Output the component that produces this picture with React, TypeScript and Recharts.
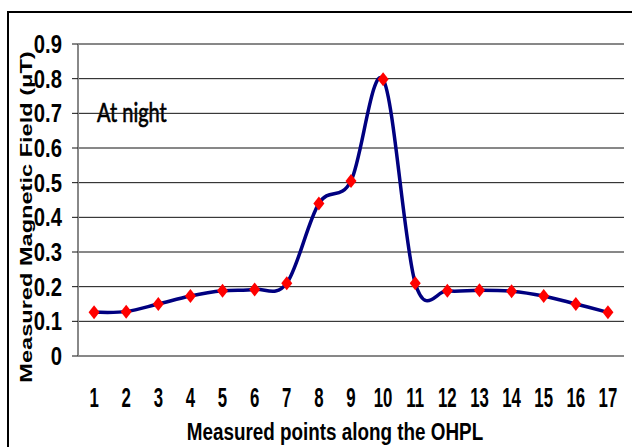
import { LineChart, Line, XAxis, YAxis, CartesianGrid, Label } from 'recharts'

const points = [1, 2, 3, 4, 5, 6, 7, 8, 9, 10, 11, 12, 13, 14, 15, 16, 17]
const fieldAtNight = [0.126, 0.128, 0.15, 0.173, 0.188, 0.192, 0.21, 0.44, 0.505, 0.798, 0.21, 0.188, 0.19, 0.187, 0.173, 0.15, 0.126]
const yTicks = [0, 0.1, 0.2, 0.3, 0.4, 0.5, 0.6, 0.7, 0.8, 0.9]

const data = points.map((p, i) => ({ point: p, value: fieldAtNight[i] }))
// tick marks sit between the measured points, like an Excel category axis
const boundaryTicks = [...points.map((p) => p - 0.5), points[points.length - 1] + 0.5]

// no Arial Narrow here, so squeeze Liberation Sans instead
const sans = "'Liberation Sans', Arial, sans-serif"

// Excel-style smoothed line (Catmull-Rom as cubic beziers)
function excelSmooth(context: any) {
  let pts: number[][] = []
  return {
    areaStart() {},
    areaEnd() {},
    lineStart() { pts = [] },
    point(x: number, y: number) { pts.push([+x, +y]) },
    lineEnd() {
      if (!pts.length) return
      context.moveTo(pts[0][0], pts[0][1])
      const t = 1 / 6
      for (let i = 0; i < pts.length - 1; i++) {
        const p0 = pts[Math.max(0, i - 1)]
        const p1 = pts[i]
        const p2 = pts[i + 1]
        const p3 = pts[Math.min(pts.length - 1, i + 2)]
        context.bezierCurveTo(
          p1[0] + (p2[0] - p0[0]) * t, p1[1] + (p2[1] - p0[1]) * t,
          p2[0] - (p3[0] - p1[0]) * t, p2[1] - (p3[1] - p1[1]) * t,
          p2[0], p2[1],
        )
      }
    },
  }
}

function Diamond(props: any) {
  const { cx, cy, index } = props
  if (cx == null || cy == null) return <g key={index} />
  return (
    <polygon
      key={index}
      points={`${cx},${cy - 7} ${cx + 5.5},${cy} ${cx},${cy + 7} ${cx - 5.5},${cy}`}
      fill="#FF0000"
    />
  )
}

function YTick({ x, y, payload }: any) {
  return (
    <text
      transform={`translate(${x},${y}) scale(0.88,1.1)`}
      dy="0.36em"
      textAnchor="end"
      fontFamily={sans}
      fontWeight="bold"
      fontSize={23}
      fill="#000"
    >
      {payload.value}
    </text>
  )
}

function XTick({ x, y, payload }: any) {
  return (
    <text
      transform={`translate(${x},${y + 51}) scale(0.8,1.3)`}
      textAnchor="middle"
      fontFamily={sans}
      fontWeight="bold"
      fontSize={21}
      fill="#000"
    >
      {payload.value}
    </text>
  )
}

export default function App() {
  return (
    <div style={{ position: 'absolute', left: 0, top: 0, width: 632, height: 447, overflow: 'hidden', background: '#fff' }}>
      <div
        style={{
          position: 'absolute', left: 7, top: 11, width: 700, height: 600,
          borderLeft: '2.5px solid #000', borderTop: '2.5px solid #000',
        }}
      />
      <div
        style={{
          position: 'absolute', left: 97, top: 98, fontFamily: 'Lato, sans-serif',
          fontSize: 20, color: '#000', lineHeight: '20px', whiteSpace: 'nowrap',
          transform: 'scale(1,1.35)', transformOrigin: 'left top',
          WebkitTextStroke: '0.5px #000',
        }}
      >
        At night
      </div>
      <div style={{ position: 'absolute', left: 0, top: 0 }}>
        <LineChart width={632} height={447} data={data} margin={{ top: 44, right: 8, bottom: 0, left: 0 }}>
          <CartesianGrid vertical={false} stroke="#111" strokeWidth={1} />
          <XAxis
            xAxisId="marks"
            dataKey="point"
            type="number"
            domain={[0.5, 17.5]}
            ticks={boundaryTicks}
            height={0}
            tick={() => <g />}
            tickSize={8}
            tickLine={{ stroke: '#777', strokeWidth: 1.5 }}
            axisLine={{ stroke: '#222', strokeWidth: 1.5 }}
            interval={0}
          />
          <XAxis
            xAxisId="pts"
            dataKey="point"
            type="number"
            domain={[0.5, 17.5]}
            ticks={points}
            height={91}
            tick={<XTick />}
            tickSize={0}
            tickMargin={0}
            tickLine={false}
            axisLine={false}
            interval={0}
          >
            <Label
              content={() => (
                <text
                  transform="translate(335,440) scale(0.82,1.05)"
                  textAnchor="middle"
                  fontFamily={sans}
                  fontWeight="bold"
                  fontSize={23}
                  fill="#000"
                >
                  Measured points along the OHPL
                </text>
              )}
            />
          </XAxis>
          <YAxis
            domain={[0, 0.9]}
            ticks={yTicks}
            width={78}
            tick={<YTick />}
            tickSize={6}
            tickMargin={10}
            tickLine={{ stroke: '#111' }}
            axisLine={{ stroke: '#888', strokeWidth: 2 }}
            interval={0}
          >
            <Label
              content={() => (
                <text
                  transform="translate(32,217) rotate(-90) scale(1.43,1)"
                  textAnchor="middle"
                  fontFamily={sans}
                  fontWeight="bold"
                  fontSize={16.5}
                  fill="#000"
                >
                  Measured Magnetic Field (μT)
                </text>
              )}
            />
          </YAxis>
          <YAxis
            yAxisId="frame"
            orientation="right"
            domain={[0, 0.9]}
            width={0}
            tick={false}
            tickLine={false}
            axisLine={{ stroke: '#aaa', strokeWidth: 2 }}
          />
          <Line
            xAxisId="pts"
            type={excelSmooth as any}
            dataKey="value"
            stroke="#000080"
            strokeWidth={3.5}
            dot={<Diamond />}
            activeDot={false}
            isAnimationActive={false}
          />
        </LineChart>
      </div>
    </div>
  )
}
